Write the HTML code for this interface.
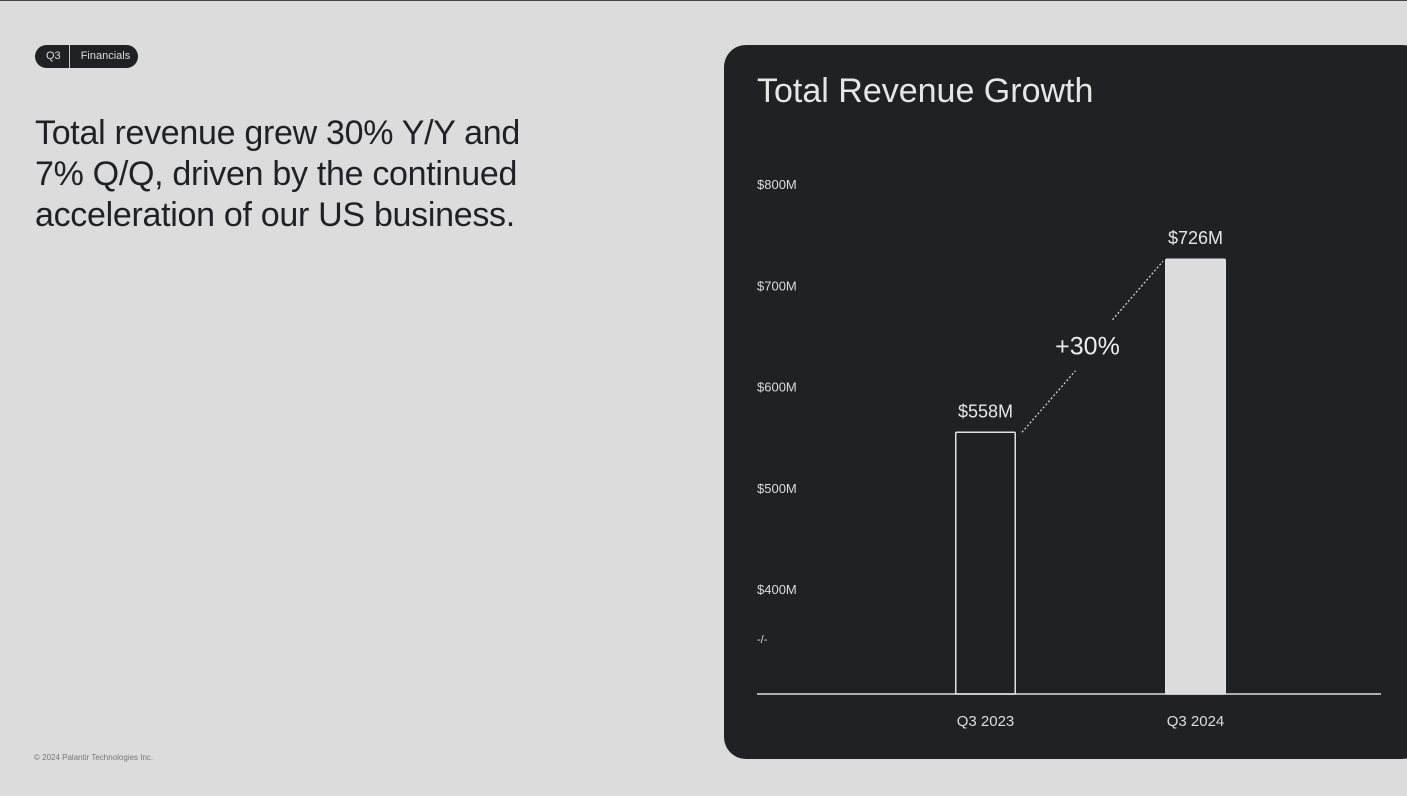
<!DOCTYPE html>
<html><head><meta charset="utf-8"><style>
body{margin:0;width:1407px;height:795px;background:#dcdcdc;position:relative;overflow:hidden;font-family:"Liberation Sans",sans-serif;border-top:1px solid #444;box-sizing:border-box}
.badge{position:absolute;left:35px;top:44px;height:23px;background:#1f2124;border-radius:12px;color:#ddd;font-size:11px;display:flex;align-items:center}
.badge span{padding:0 8px 0 11px;line-height:23px}
.badge .sep{width:1px;height:23px;background:#ccc;padding:0}
h1{position:absolute;left:35px;top:112px;margin:0;font-weight:normal;font-size:34px;line-height:41px;color:#1f2124;letter-spacing:-0.3px}
.foot{position:absolute;left:34px;top:752px;font-size:8px;color:#777}
.panel{position:absolute;left:724px;top:44px;width:700px;height:714px;background:#1f2124;border-radius:22px}
</style></head><body>
<div class="badge"><span>Q3</span><span class="sep"></span><span>Financials</span></div>
<h1>Total revenue grew 30% Y/Y and<br>7% Q/Q, driven by the continued<br>acceleration of our US business.</h1>
<div class="foot">© 2024 Palantir Technologies Inc.</div>
<div class="panel"></div>
<svg id="chart" width="1407" height="795" style="position:absolute;left:0;top:0">
<text x="757" y="101" fill="#e6e6e6" font-size="34" font-family="Liberation Sans">Total Revenue Growth</text>
</svg>
<script>
const categories=["Q3 2023","Q3 2024"];
const values=[558,726];
const valueLabels=["$558M","$726M"];
const ticks=[800,700,600,500,400];
const tickLabels=["$800M","$700M","$600M","$500M","$400M"];
const growthLabel="+30%";
const svg=document.getElementById('chart');
const NS="http://www.w3.org/2000/svg";
const y=v=>182+(800-v)*1.03;
const x=i=>955+i*210;
const bw=61, base=693;
function mk(t,a){const e=document.createElementNS(NS,t);for(const k in a)e.setAttribute(k,a[k]);svg.appendChild(e);return e;}
ticks.forEach((t,i)=>{const e=mk('text',{x:757,y:184+(800-t)*1.013+4,fill:'#ddd','font-size':13,'font-family':'Liberation Sans'});e.textContent=tickLabels[i];

});
const br=mk('text',{x:757,y:642,fill:'#ddd','font-size':11});br.textContent='-/-';


const ax=mk('line',{x1:757,x2:1381,y1:base,y2:base,stroke:'#ddd','stroke-width':1.5});


values.forEach((v,i)=>{
const r=mk('rect',{x:x(i)+0.75,y:y(v),width:bw-1.5,height:base-y(v),fill:i?'#dcdcdc':'none',stroke:'#e0e0e0','stroke-width':1.5,rx:1});


const l=mk('text',{x:x(i)+bw/2,y:y(v)-15,fill:'#e6e6e6','font-size':18,'text-anchor':'middle'});l.textContent=valueLabels[i];


const c=mk('text',{x:x(i)+bw/2,y:725,fill:'#ddd','font-size':15,'text-anchor':'middle'});c.textContent=categories[i];


});
const x1=x(0)+bw+6,y1=y(values[0]),x2=x(1)-2,y2=y(values[1])+2;
const mx=(x1+x2)/2,my=(y1+y2)/2;
const dash={stroke:'#ddd','stroke-width':1.2,'stroke-dasharray':'2 2'};
const d1=mk('line',Object.assign({x1:x1,y1:y1,x2:mx-17,y2:my+24},dash));


const d2=mk('line',Object.assign({x1:mx+20,y1:my-27,x2:x2,y2:y2},dash));


const g=mk('text',{x:mx-5,y:my+8,fill:'#eee','font-size':25,'text-anchor':'middle'});g.textContent=growthLabel;


</script>
</body></html>
